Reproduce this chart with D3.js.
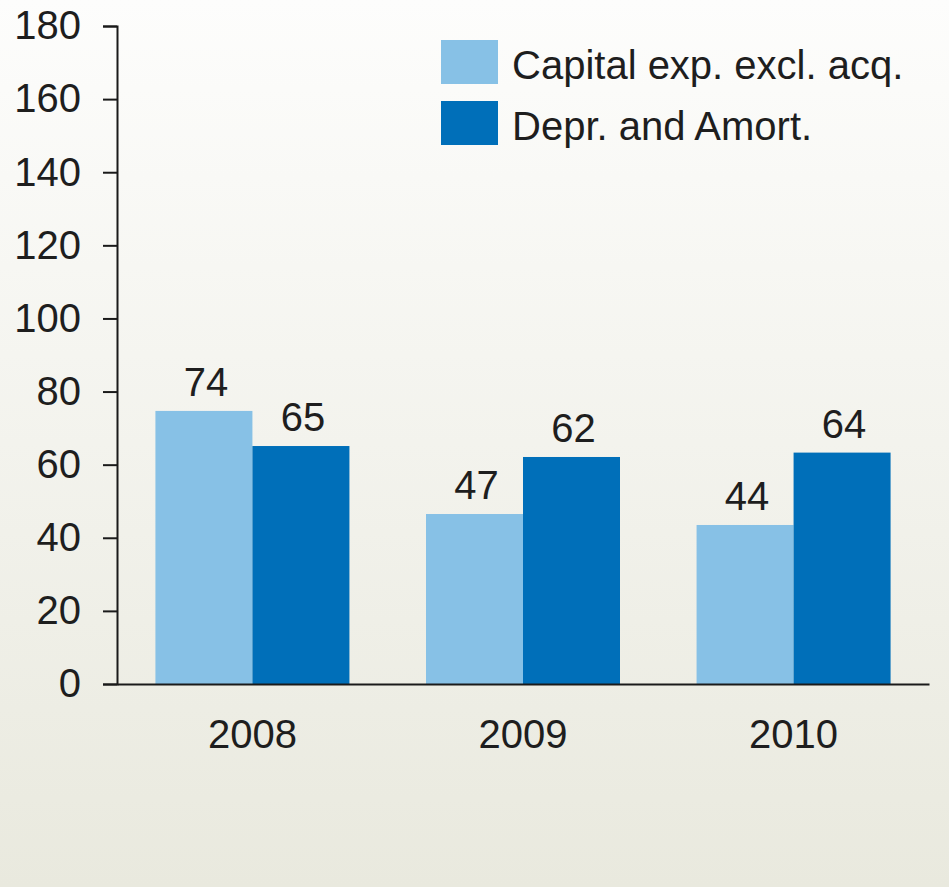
<!DOCTYPE html>
<html>
<head>
<meta charset="utf-8">
<script src="https://cdn.jsdelivr.net/npm/d3@7"></script>
<style>
  body { margin: 0; }
  text { font-family: "Liberation Sans", Arial, sans-serif; fill: #1e1e1e; }
</style>
</head>
<body>
<div id="chart"></div>
<script>
// data
var years = ["2008", "2009", "2010"];
var series = ["Capital exp. excl. acq.", "Depr. and Amort."];
var capex = [74.7, 46.5, 43.5];
var depr = [65.1, 62.1, 63.3];
var capexLabels = ["74", "47", "44"];
var deprLabels = ["65", "62", "64"];
var yTicks = [0, 20, 40, 60, 80, 100, 120, 140, 160, 180];

var width = 949, height = 887;
var colors = ["#87c1e6", "#006fb9"];

var svg = d3.select("#chart").append("svg")
  .attr("width", width)
  .attr("height", height);

// soft background gradient
var grad = svg.append("defs").append("linearGradient")
  .attr("id", "bg")
  .attr("x1", 0).attr("y1", 0).attr("x2", 0).attr("y2", 1);
grad.append("stop").attr("offset", "0%").attr("stop-color", "#fdfdfc");
grad.append("stop").attr("offset", "100%").attr("stop-color", "#e9e9de");

svg.append("rect")
  .attr("width", width)
  .attr("height", height)
  .attr("fill", "url(#bg)");

var yScale = d3.scaleLinear()
  .domain([0, 180])
  .range([684, 26]);

var xScale = d3.scaleBand()
  .domain(years)
  .range([117, 929])
  .paddingInner(0.283)
  .paddingOuter(0.142);

var x1 = d3.scaleBand()
  .domain(series)
  .range([0, xScale.bandwidth()]);

var rows = years.map(function (y, i) {
  return {
    year: y,
    bars: [
      { key: series[0], value: capex[i], label: capexLabels[i] },
      { key: series[1], value: depr[i], label: deprLabels[i] }
    ]
  };
});

var groups = svg.selectAll(".group")
  .data(rows)
  .enter().append("g")
  .attr("class", "group")
  .attr("transform", function (d) { return "translate(" + xScale(d.year) + ",0)"; });

groups.selectAll("rect")
  .data(function (d) { return d.bars; })
  .enter().append("rect")
  .attr("x", function (d) { return x1(d.key); })
  .attr("width", x1.bandwidth())
  .attr("y", function (d) { return yScale(d.value); })
  .attr("height", function (d) { return yScale(0) - yScale(d.value); })
  .attr("fill", function (d, i) { return colors[i]; });

groups.selectAll(".val")
  .data(function (d) { return d.bars; })
  .enter().append("text")
  .attr("class", "val")
  .attr("x", function (d) { return x1(d.key) + x1.bandwidth() / 2 + 2; })
  .attr("y", function (d) { return yScale(d.value) - 15; })
  .attr("text-anchor", "middle")
  .style("font-size", "40px")
  .text(function (d) { return d.label; });

// axes
var yAxis = d3.axisLeft(yScale)
  .tickValues(yTicks)
  .tickSize(14)
  .tickPadding(22);

var yg = svg.append("g")
  .attr("transform", "translate(117,0)")
  .call(yAxis);
yg.selectAll("text").style("font-size", "40px").attr("fill", "#1e1e1e");

var xAxis = d3.axisBottom(xScale)
  .tickSize(0)
  .tickPadding(36);

var xg = svg.append("g")
  .attr("transform", "translate(0,684)")
  .call(xAxis);
xg.selectAll("text").style("font-size", "40px").attr("fill", "#1e1e1e");

svg.selectAll(".domain, .tick line")
  .attr("stroke", "#1a1a1a")
  .attr("stroke-width", 2);

// legend
var legend = svg.selectAll(".legend")
  .data(series)
  .enter().append("g")
  .attr("class", "legend")
  .attr("transform", function (d, i) { return "translate(441," + (40 + i * 61) + ")"; });

legend.append("rect")
  .attr("width", 57)
  .attr("height", 44)
  .attr("fill", function (d, i) { return colors[i]; });

legend.append("text")
  .attr("x", 71)
  .attr("y", 39)
  .style("font-size", "40px")
  .text(function (d) { return d; });
</script>
</body>
</html>
